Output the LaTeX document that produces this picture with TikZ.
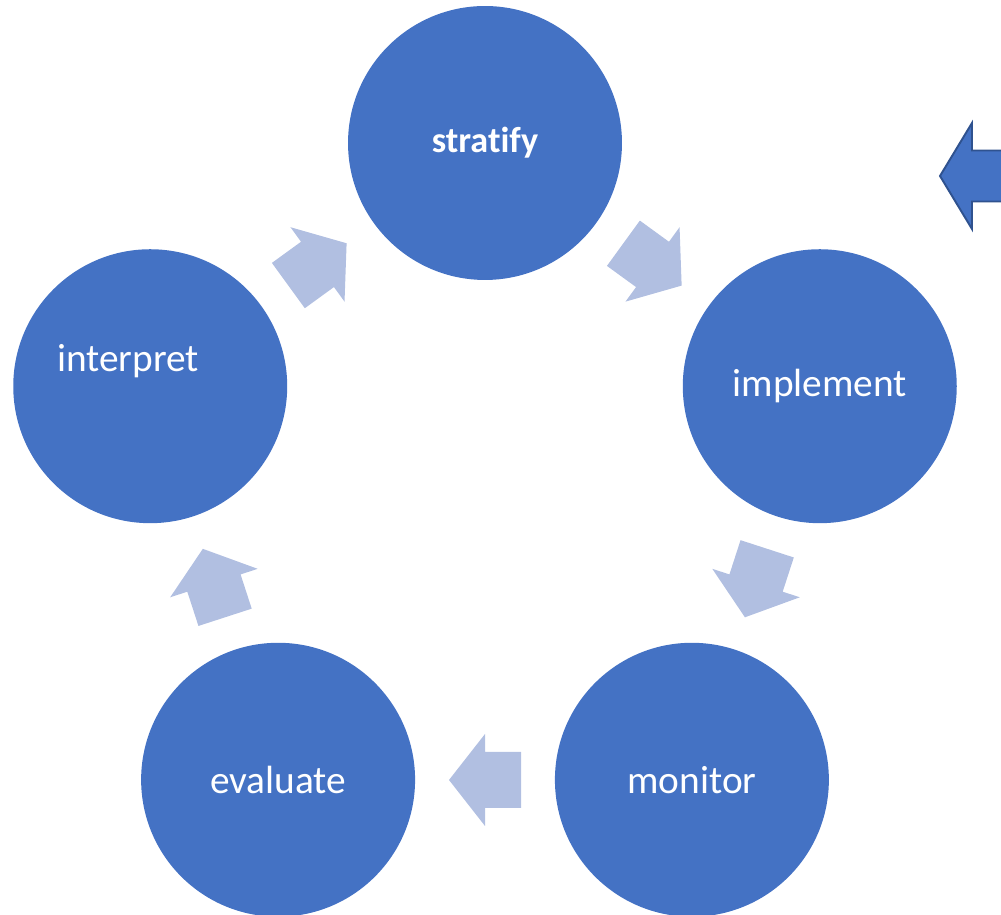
\documentclass[tikz,border=0pt]{standalone}
\usepackage{fontspec}
\setmainfont{Carlito}[Ligatures=NoCommon]
\usepackage{xcolor}
\usetikzlibrary{positioning}
\definecolor{stepblue}{HTML}{4472C4}
\definecolor{steplight}{HTML}{B1BFE1}
\definecolor{stepedge}{HTML}{2F528F}

\tikzset{
	stepcircle/.style = {circle, fill=stepblue, draw=none, minimum size=5.48cm, inner sep=0pt,
		text=white, font=\fontsize{22.4}{26}\selectfont},
	blockarrow/.pic = {
		\fill[steplight] (-36,-28) -- (0,-28) -- (0,-46) -- (36,0) -- (0,46) -- (0,28) -- (-36,28) -- cycle;
	}
}

\begin{document}
\begin{tikzpicture}[x=0.02cm, y=0.02cm]
	\useasboundingbox (0,0) rectangle (1001,915);
	\coordinate (c) at (485,420);
	% the five steps
	\node[stepcircle] (strat) at ([shift={(90:352)}]c) {\fontsize{20.6}{24}\selectfont\bfseries stratify};
	\node[stepcircle] (impl) at ([shift={(18:352)}]c) {implement};
	\node[stepcircle] (monit) at ([shift={(-54:352)}]c) {monitor};
	\node[stepcircle] (evalu) at ([shift={(234:352)}]c) {evaluate};
	\node[stepcircle] (interp) at ([shift={(162:352)}]c) {};
	\node[text=white, font=\fontsize{22.4}{26}\selectfont] (interptext) at ([shift={(-22,25)}]interp) {interpret};
	% arrows between the steps
	\foreach \a in {54, -18, -90, 198, 126}
		\pic[rotate=\a-90] at ([shift={(\a:285)}]c) {blockarrow};
	% arrow on the right
	\coordinate (tip) at (940,739);
	\filldraw[fill=stepblue, draw=stepedge, line width=1.1pt]
		(tip) -- ++(32,53) -- ++(0,-27.5) -- ++(80,0) -- ++(0,-51) -- ++(-80,0) -- ++(0,-27.5) -- cycle;
\end{tikzpicture}
\end{document}
